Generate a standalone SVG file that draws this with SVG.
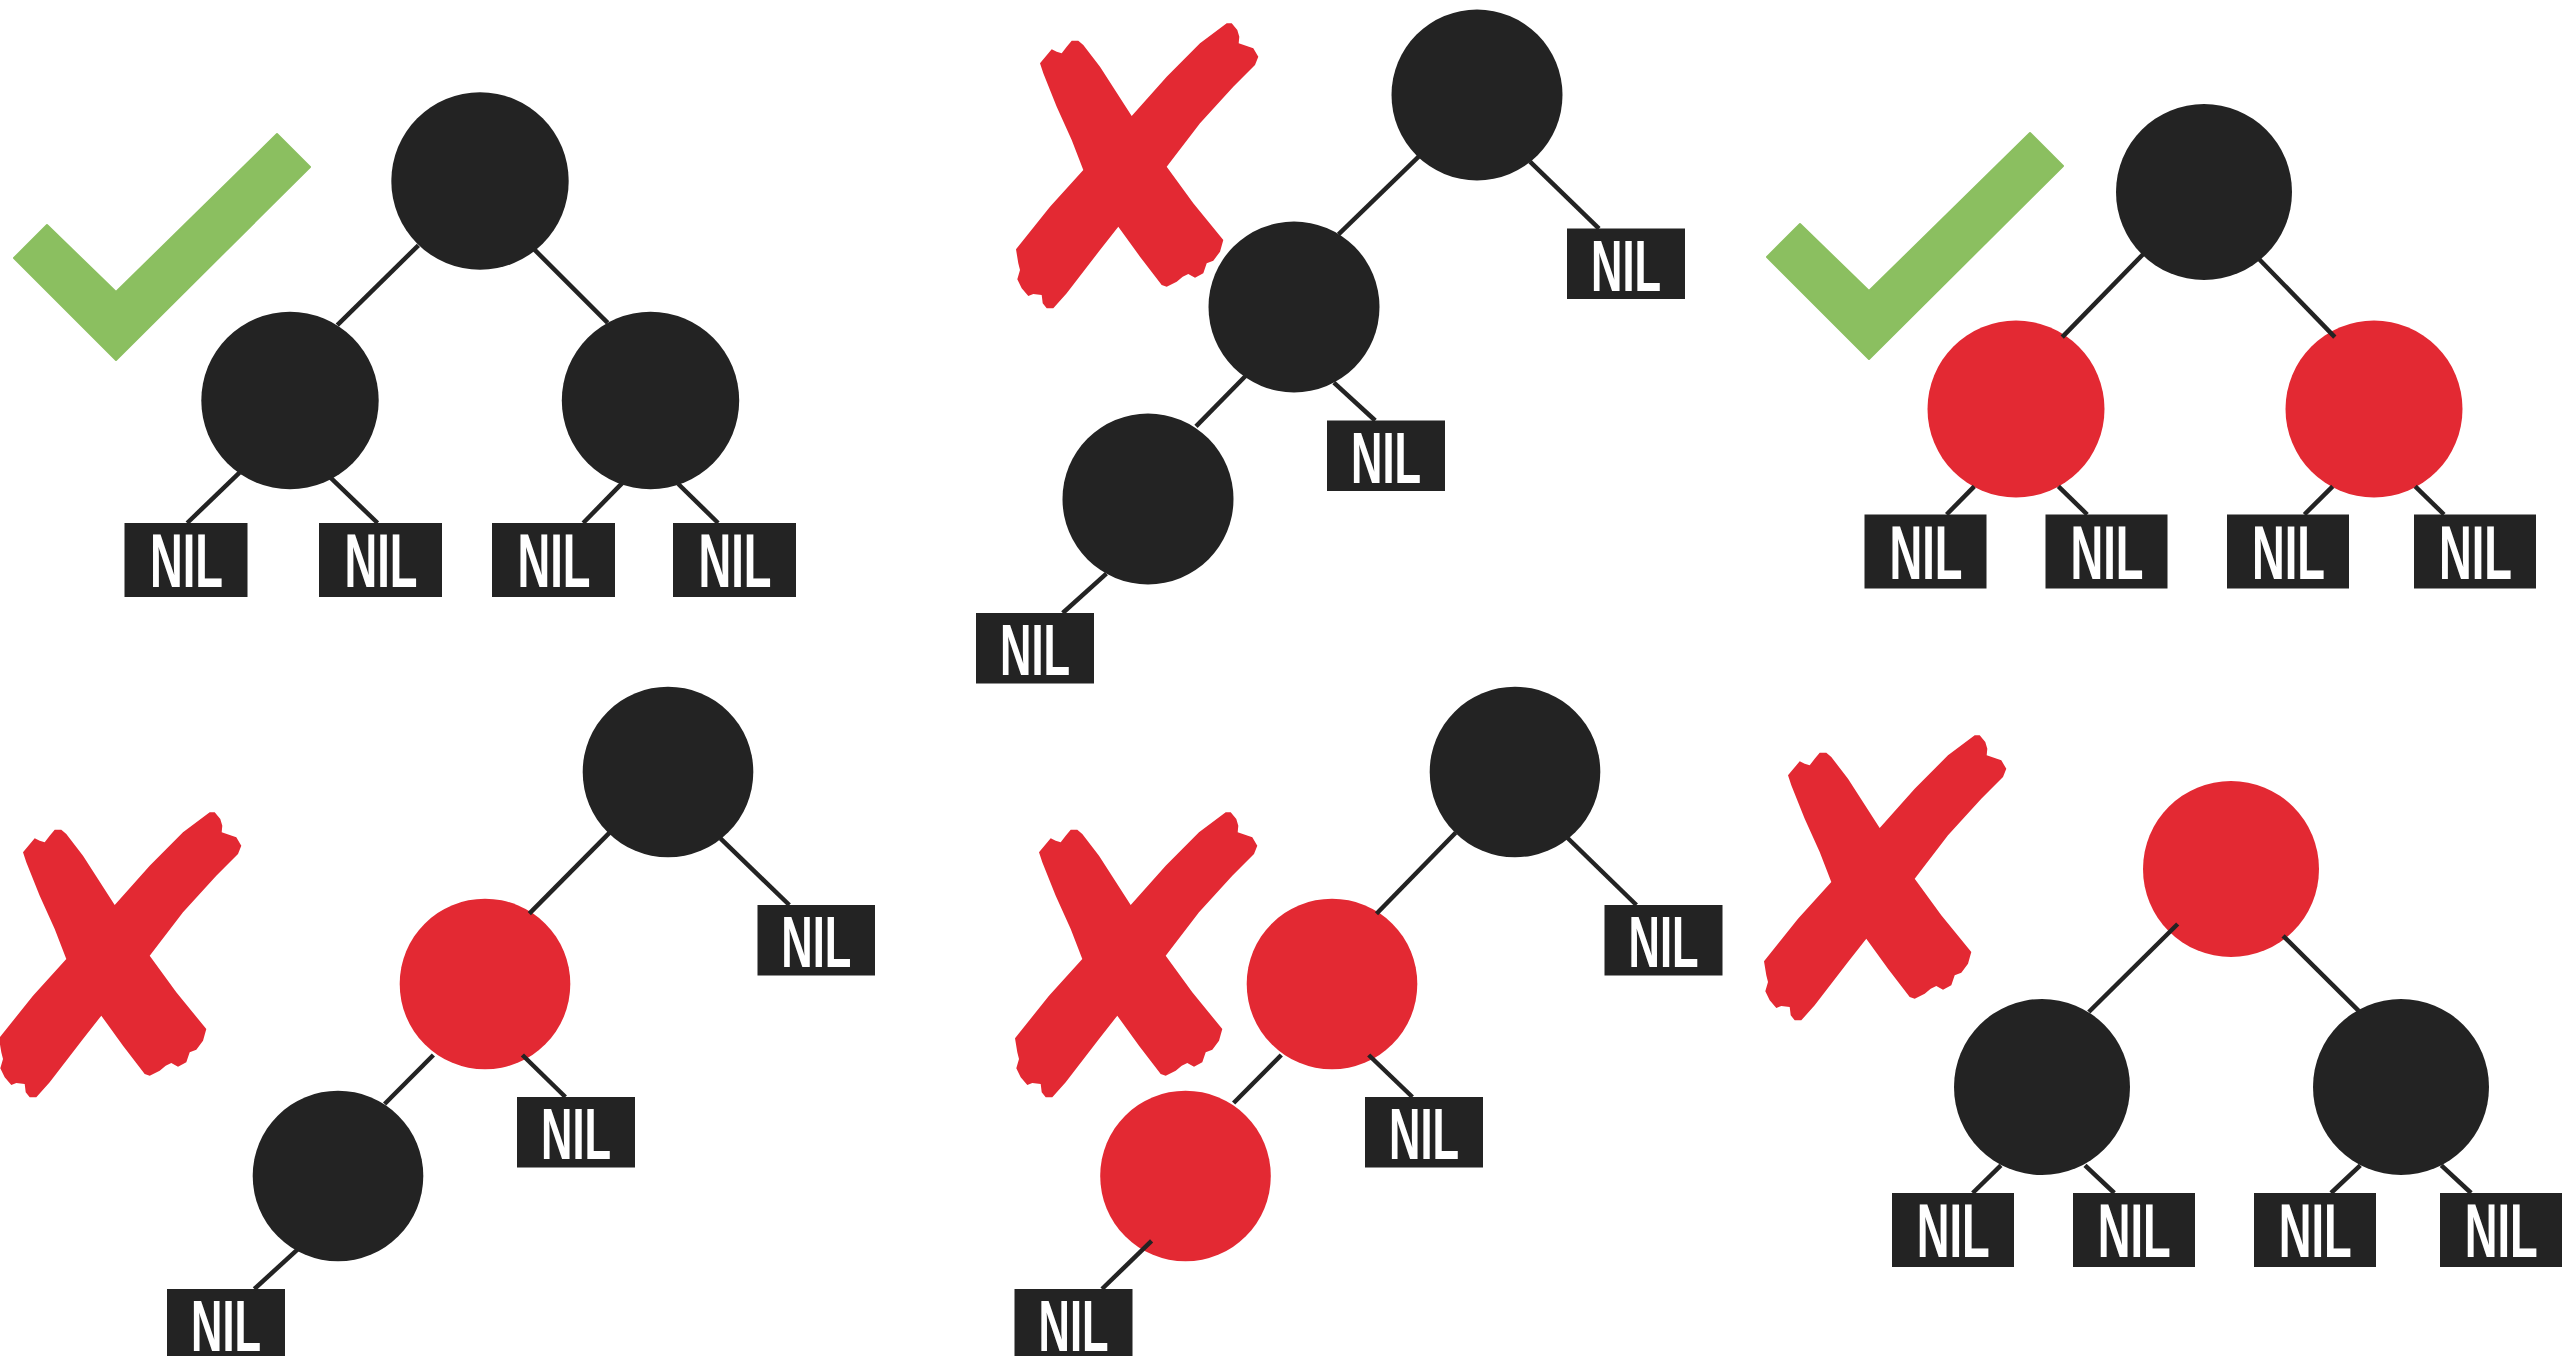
<svg xmlns="http://www.w3.org/2000/svg" xmlns:xlink="http://www.w3.org/1999/xlink" width="2575" height="1356" viewBox="0 0 2575 1356">
<style>
.blk{fill:#232323}
.red{fill:#E32933}
.box{fill:#232323}
.nil{fill:#ffffff;font-family:"Liberation Sans",Arial,sans-serif;font-weight:bold;text-anchor:middle}
.big{font-size:76px}
.sml{font-size:73px}
.edge{stroke:#232323;stroke-width:4.5;fill:none}
.ok{fill:#8BBF60;stroke:#8BBF60;stroke-width:2;stroke-linejoin:round}
.no{fill:#E32933}
</style>
<defs>
<polygon id="tick" points="14,258 47,225 116,292 277,134 310,167 116,360"/>
<path id="xmark" d="M40,53.3 L51.7,39.3 L56.7,41.7 L61.7,43.3 L66.7,36.7 L71.7,30.7 L78.3,30.7 L83.3,35 L100,56.7 L131.7,106 L166.7,66.7 L200,33.3 L226.7,13.3 L231.7,13.3 L237.3,20 L239.3,26.7 L238.7,33.3 L246.7,36 L253.3,38.3 L258.3,46.7 L255,55 L233.3,76.7 L200,113.3 L166.7,156.7 L193.3,193.3 L223.3,230 L220,241.7 L213.3,250.7 L206.7,253.3 L203.3,263.3 L195,267.7 L188.3,264 L182.7,266.7 L176.7,271.7 L166.7,276.7 L161.7,275 L140,246.7 L118.3,216.7 L100,240 L66.7,283.3 L53.3,298.3 L46.7,298.3 L42.7,293.3 L41.7,285 L33.3,284 L28.3,286 L21.7,278.3 L17.3,269.3 L20,260 L18.3,253.3 L16,239.3 L50,196.7 L83.3,160 L71.7,130 L56.7,96.7 L43.3,63.3 Z"/>
</defs>
<rect x="0" y="0" width="2575" height="1356" fill="#ffffff"/>

<!-- marks -->
<g id="marks">
<use href="#tick" xlink:href="#tick" class="ok"/>
<use href="#tick" xlink:href="#tick" class="ok" transform="translate(1753,-1)"/>
<use href="#xmark" xlink:href="#xmark" class="no" transform="translate(1000,10)"/>
<use href="#xmark" xlink:href="#xmark" class="no" transform="translate(-17,799)"/>
<use href="#xmark" xlink:href="#xmark" class="no" transform="translate(999,799)"/>
<use href="#xmark" xlink:href="#xmark" class="no" transform="translate(1748,722)"/>
</g>

<!-- Panel 1 -->
<g id="p1-root"><circle class="blk" cx="480" cy="181" r="88.7"/></g>
<g id="p1-left"><circle class="blk" cx="290" cy="400.5" r="88.7"/></g>
<g id="p1-right"><circle class="blk" cx="650.5" cy="400.5" r="88.7"/></g>
<g id="p1-nil1"><rect class="box" x="124.5" y="523" width="123" height="74"/><text class="nil big" x="186.5" y="587" textLength="73" lengthAdjust="spacingAndGlyphs">NIL</text></g>
<g id="p1-nil2"><rect class="box" x="319" y="523" width="123" height="74"/><text class="nil big" x="381" y="587" textLength="73" lengthAdjust="spacingAndGlyphs">NIL</text></g>
<g id="p1-nil3"><rect class="box" x="492" y="523" width="123" height="74"/><text class="nil big" x="554" y="587" textLength="73" lengthAdjust="spacingAndGlyphs">NIL</text></g>
<g id="p1-nil4"><rect class="box" x="673" y="523" width="123" height="74"/><text class="nil big" x="735" y="587" textLength="73" lengthAdjust="spacingAndGlyphs">NIL</text></g>

<!-- Panel 2 -->
<g id="p2-root"><circle class="blk" cx="1477" cy="95" r="85.5"/></g>
<g id="p2-mid"><circle class="blk" cx="1294" cy="307" r="85.5"/></g>
<g id="p2-low"><circle class="blk" cx="1148" cy="499" r="85.5"/></g>
<g id="p2-nil1"><rect class="box" x="1567" y="228.5" width="118" height="70.5"/><text class="nil sml" x="1626" y="290.5" textLength="70" lengthAdjust="spacingAndGlyphs">NIL</text></g>
<g id="p2-nil2"><rect class="box" x="1327" y="420.5" width="118" height="70.5"/><text class="nil sml" x="1386" y="482.5" textLength="70" lengthAdjust="spacingAndGlyphs">NIL</text></g>
<g id="p2-nil3"><rect class="box" x="976" y="613" width="118" height="70.5"/><text class="nil sml" x="1035" y="675" textLength="70" lengthAdjust="spacingAndGlyphs">NIL</text></g>

<!-- Panel 3 -->
<g id="p3-root"><circle class="blk" cx="2204" cy="192" r="88"/></g>
<g id="p3-left"><circle class="red" cx="2016" cy="409" r="88.5"/></g>
<g id="p3-right"><circle class="red" cx="2374" cy="409" r="88.5"/></g>
<g id="p3-nil1"><rect class="box" x="1864.5" y="514.5" width="122" height="74"/><text class="nil big" x="1926" y="578.5" textLength="73" lengthAdjust="spacingAndGlyphs">NIL</text></g>
<g id="p3-nil2"><rect class="box" x="2045.5" y="514.5" width="122" height="74"/><text class="nil big" x="2107" y="578.5" textLength="73" lengthAdjust="spacingAndGlyphs">NIL</text></g>
<g id="p3-nil3"><rect class="box" x="2227" y="514.5" width="122" height="74"/><text class="nil big" x="2288.5" y="578.5" textLength="73" lengthAdjust="spacingAndGlyphs">NIL</text></g>
<g id="p3-nil4"><rect class="box" x="2414" y="514.5" width="122" height="74"/><text class="nil big" x="2475.5" y="578.5" textLength="73" lengthAdjust="spacingAndGlyphs">NIL</text></g>

<!-- Panel 4 -->
<g id="p4-root"><circle class="blk" cx="668" cy="772" r="85.3"/></g>
<g id="p4-mid"><circle class="red" cx="485" cy="984" r="85.3"/></g>
<g id="p4-low"><circle class="blk" cx="338" cy="1176" r="85.3"/></g>
<g id="p4-nil1"><rect class="box" x="757.5" y="905" width="117.5" height="70.5"/><text class="nil sml" x="816.3" y="967" textLength="70" lengthAdjust="spacingAndGlyphs">NIL</text></g>
<g id="p4-nil2"><rect class="box" x="517" y="1097" width="118" height="70.5"/><text class="nil sml" x="576" y="1159" textLength="70" lengthAdjust="spacingAndGlyphs">NIL</text></g>
<g id="p4-nil3"><rect class="box" x="167" y="1289" width="118" height="70.5"/><text class="nil sml" x="226" y="1351" textLength="70" lengthAdjust="spacingAndGlyphs">NIL</text></g>

<!-- Panel 5 -->
<g id="p5-root"><circle class="blk" cx="1515" cy="772" r="85.3"/></g>
<g id="p5-mid"><circle class="red" cx="1332" cy="984" r="85.3"/></g>
<g id="p5-low"><circle class="red" cx="1185.5" cy="1176" r="85.3"/></g>
<g id="p5-nil1"><rect class="box" x="1604.5" y="905" width="118" height="70.5"/><text class="nil sml" x="1663.5" y="967" textLength="70" lengthAdjust="spacingAndGlyphs">NIL</text></g>
<g id="p5-nil2"><rect class="box" x="1365" y="1097" width="118" height="70.5"/><text class="nil sml" x="1424" y="1159" textLength="70" lengthAdjust="spacingAndGlyphs">NIL</text></g>
<g id="p5-nil3"><rect class="box" x="1014.5" y="1289" width="118" height="70.5"/><text class="nil sml" x="1073.5" y="1351" textLength="70" lengthAdjust="spacingAndGlyphs">NIL</text></g>

<!-- Panel 6 -->
<g id="p6-root"><circle class="red" cx="2231" cy="869" r="88"/></g>
<g id="p6-left"><circle class="blk" cx="2042" cy="1087" r="88"/></g>
<g id="p6-right"><circle class="blk" cx="2401" cy="1087" r="88"/></g>
<g id="p6-nil1"><rect class="box" x="1892" y="1193" width="122" height="74"/><text class="nil big" x="1953.3" y="1256.5" textLength="73" lengthAdjust="spacingAndGlyphs">NIL</text></g>
<g id="p6-nil2"><rect class="box" x="2073" y="1193" width="122" height="74"/><text class="nil big" x="2134.3" y="1256.5" textLength="73" lengthAdjust="spacingAndGlyphs">NIL</text></g>
<g id="p6-nil3"><rect class="box" x="2254" y="1193" width="122" height="74"/><text class="nil big" x="2315.3" y="1256.5" textLength="73" lengthAdjust="spacingAndGlyphs">NIL</text></g>
<g id="p6-nil4"><rect class="box" x="2440" y="1193" width="122" height="74"/><text class="nil big" x="2501.3" y="1256.5" textLength="73" lengthAdjust="spacingAndGlyphs">NIL</text></g>

<!-- connectors -->
<g id="connectors" class="edge">
<line x1="418.4" y1="245.3" x2="337.3" y2="325.2"/>
<line x1="533.5" y1="248.7" x2="607.7" y2="322.8"/>
<line x1="239.5" y1="472.6" x2="187.2" y2="523"/>
<line x1="330.5" y1="477.7" x2="377.6" y2="523"/>
<line x1="622.4" y1="482.9" x2="583.2" y2="523"/>
<line x1="678.3" y1="484" x2="718.1" y2="523"/>

<line x1="1418.9" y1="156.3" x2="1338.5" y2="234.4"/>
<line x1="1530" y1="161.6" x2="1599" y2="228.6"/>
<line x1="1246.5" y1="375" x2="1196" y2="426.3"/>
<line x1="1333.9" y1="382.6" x2="1375.2" y2="420.5"/>
<line x1="1106.4" y1="573.7" x2="1062.7" y2="613"/>

<line x1="2143.1" y1="254.2" x2="2062.2" y2="337.1"/>
<line x1="2259.2" y1="259.2" x2="2334.8" y2="337.1"/>
<line x1="1974.3" y1="486.3" x2="1946.6" y2="514.5"/>
<line x1="2058.4" y1="486.3" x2="2087.2" y2="514.5"/>
<line x1="2332.7" y1="486.3" x2="2304.4" y2="514.5"/>
<line x1="2415.2" y1="486.3" x2="2444" y2="514.5"/>

<line x1="609.6" y1="832.7" x2="529.3" y2="913.7"/>
<line x1="720.4" y1="838.4" x2="789.3" y2="905"/>
<line x1="433.4" y1="1055" x2="384.6" y2="1104"/>
<line x1="522.4" y1="1055" x2="565.4" y2="1097"/>
<line x1="297.4" y1="1249.6" x2="254.3" y2="1289"/>

<line x1="1455.6" y1="832.7" x2="1376.5" y2="913.7"/>
<line x1="1567.1" y1="837.5" x2="1636.4" y2="905"/>
<line x1="1281.3" y1="1055" x2="1233.6" y2="1103"/>
<line x1="1368.7" y1="1055" x2="1412.4" y2="1097"/>
<line x1="1151.6" y1="1240.9" x2="1102" y2="1289"/>

<line x1="2177.7" y1="924" x2="2088.8" y2="1012"/>
<line x1="2283.1" y1="935.8" x2="2358.7" y2="1010.9"/>
<line x1="2000.9" y1="1165.4" x2="1972.7" y2="1193"/>
<line x1="2085" y1="1165.4" x2="2114.3" y2="1193"/>
<line x1="2360.3" y1="1165.4" x2="2331" y2="1193"/>
<line x1="2441.3" y1="1165.4" x2="2471.1" y2="1193"/>
</g>
</svg>
